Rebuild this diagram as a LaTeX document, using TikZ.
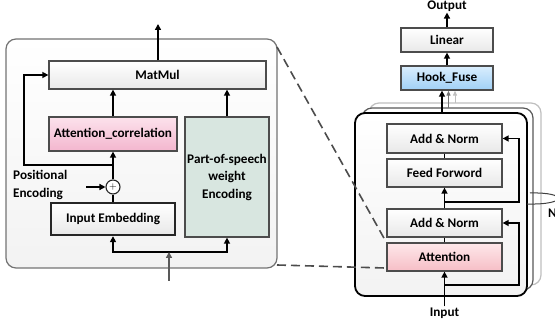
\documentclass[tikz,border=0pt]{standalone}
\usepackage{fontspec}
\setmainfont{Carlito}
\usetikzlibrary{arrows.meta,positioning,calc}

\definecolor{pinkA}{RGB}{252,226,236}
\definecolor{pinkB}{RGB}{243,182,206}
\definecolor{roseA}{RGB}{254,232,234}
\definecolor{roseB}{RGB}{246,190,198}
\definecolor{blueA}{RGB}{218,238,253}
\definecolor{blueB}{RGB}{160,208,246}
\definecolor{sage}{RGB}{216,230,224}

\tikzset{
  blk/.style={draw=black!70, line width=1.3pt, top color=white, bottom color=black!9,
    font=\bfseries\fontsize{13.2}{17.5}\selectfont, align=center, inner sep=0pt},
  lbl/.style={font=\bfseries\fontsize{13.2}{17.5}\selectfont, inner sep=1pt},
  arr/.style={-{Triangle[length=6pt,width=6pt]}, line width=1.6pt},
  thinarr/.style={-{Triangle[length=5pt,width=4pt]}, line width=1pt},
  link/.style={line width=1.6pt},
}

\begin{document}
\begin{tikzpicture}[x=1pt,y=-1pt]
	\useasboundingbox (0,0) rectangle (555,328);
	
	% zoomed-in attention block
	\draw[draw=black!55, line width=1.2pt, rounded corners=10pt, top color=white, bottom color=black!5]
	(6,39) rectangle (277,268);
	
	\node[blk, minimum width=217pt, minimum height=28pt] (matmul) at (157.5,75) {MatMul};
	\node[blk, top color=pinkA, bottom color=pinkB, minimum width=128pt, minimum height=34pt] (attcor) at (113,134) {Attention\_correlation};
	\node[blk, top color=sage, bottom color=sage, minimum width=84pt, minimum height=120pt] (pos) at (227,177) {Part-of-speech\\weight\\Encoding};
	\node[blk, draw=black!85, line width=2.4pt, minimum width=124pt, minimum height=32pt] (embed) at (113,219) {Input Embedding};
	\node[circle, draw=black!85, line width=1.1pt, fill=white, inner sep=0pt, minimum size=14pt] (plus) at (113,187) {$+$};
	\node[lbl, anchor=west, align=left] (poslbl) at (12,185) {Positional\\Encoding};
	
	\coordinate (posin) at (86,187);
	\coordinate (fork) at (113,165);
	\coordinate (loop) at (24,165);
	\coordinate (split) at (169,252);
	\coordinate (in1) at (169,281);
	\coordinate (out1) at (158,24);
	
	\draw[arr] (posin) -- (plus);
	\draw[link] (embed) -- (plus);
	\draw[arr] (plus) -- (attcor);
	\draw[arr] (fork) -- (loop) |- (matmul.west);
	\draw[arr] (attcor.north) -- (attcor.north |- matmul.south);
	\draw[arr] (pos.north) -- (pos.north |- matmul.south);
	\draw[arr] (matmul.north -| out1) -- (out1);
	\draw[arr] (split) -| (embed);
	\draw[arr] (split) -| (pos);
	\draw[arr, black!65] (in1) -- (split);
	
	% stacked encoder layers
	\draw[rounded corners=10pt, line width=1.2pt, draw=black!25, fill=white] (369,103) rectangle (541,285);
	\draw[rounded corners=10pt, line width=1.2pt, draw=black!65, fill=white] (362,108) rectangle (533,290);
	\draw[rounded corners=10pt, line width=1.8pt, draw=black, top color=white, bottom color=black!5] (355,113) rectangle (527,296);
	
	\node[blk, minimum width=115pt, minimum height=29pt] (an2) at (444.5,138.5) {Add \& Norm};
	\node[blk, minimum width=115pt, minimum height=28pt] (ff) at (444.5,173) {Feed Forword};
	\node[blk, minimum width=115pt, minimum height=28pt] (an1) at (444.5,223) {Add \& Norm};
	\node[blk, top color=roseA, bottom color=roseB, minimum width=115pt, minimum height=28pt] (att) at (444.5,257) {Attention};
	\node[blk, top color=blueA, bottom color=blueB, minimum width=92pt, minimum height=24pt] (hook) at (447,78) {Hook\_Fuse};
	\node[blk, minimum width=92pt, minimum height=24pt] (linear) at (447,40) {Linear};
	\node[lbl] (output) at (447,6) {Output};
	\node[lbl] (input) at (444.5,313) {Input};
	\node[lbl, anchor=west] (nlbl) at (547,213) {N};
	
	\coordinate (top1) at (442,113);
	\coordinate (top2) at (448.5,108);
	\coordinate (top3) at (455,103);
	\coordinate (r1) at (444.5,285);
	\coordinate (r1c) at (519,285);
	\coordinate (r2) at (444.5,202);
	\coordinate (r2c) at (519,202);
	
	\draw[arr] (linear) -- (output);
	\draw[arr] (hook) -- (linear);
	\draw[arr] (top1) -- (top1 |- hook.south);
	\draw[thinarr, black!55] (top2) -- (top2 |- hook.south);
	\draw[thinarr, black!25] (top3) -- (top3 |- hook.south);
	\draw[link] (an2) -- (ff);
	\draw[arr] (an1) -- (ff);
	\draw[link] (att) -- (an1);
	\draw[arr] (input) -- (att);
	\draw[arr] (r1) -- (r1c) |- (an1.east);
	\draw[arr] (r2) -- (r2c) |- (an2.east);
	
	% N times loop
	\draw[line width=1pt, black!75] (530,193) .. controls (568,192) and (568,205) .. (527,204);
	
	% zoom lines
	\draw[line width=1.6pt, black!70, dash pattern=on 9pt off 5pt] (277,47) -- (att.north west);
	\draw[line width=1.6pt, black!70, dash pattern=on 9pt off 5pt] (277,265) -- (385,268);
	
\end{tikzpicture}
\end{document}
